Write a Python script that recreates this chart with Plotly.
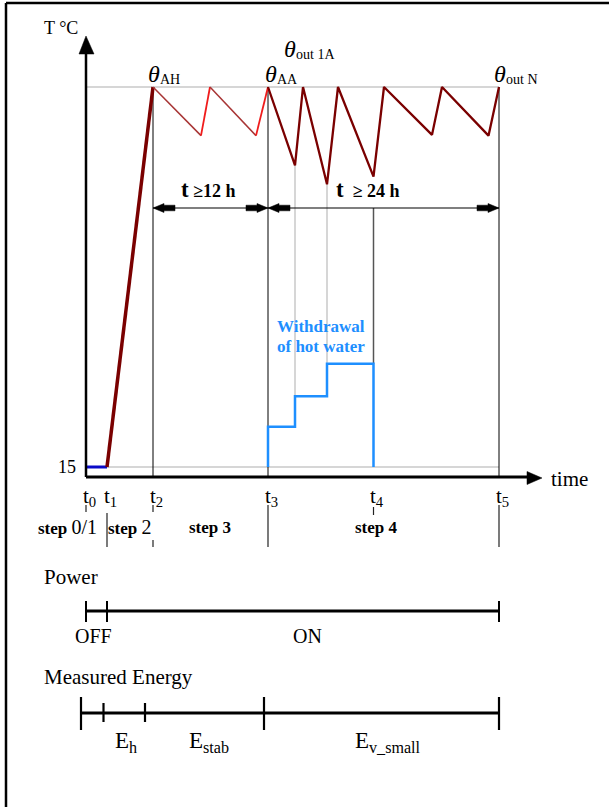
import plotly.graph_objects as go

# ---------------- data ----------------
T_NAMES = ["0", "1", "2", "3", "4", "5"]
T_VALUES = [0, 21, 67, 182, 287.5, 413]          # time instants t0..t5
T_START = 15                                     # initial temperature (°C)
THETA_MAX = 65                                   # thermostat upper temperature

SAW_STAB_TIME = [67, 115, 124, 170, 182]         # step 3 (stabilisation)
SAW_STAB_TEMP = [65, 58.6, 65, 58.6, 65]
SAW_TEST_TIME = [182, 209, 217, 241, 252, 287.5, 298, 346, 356, 402.5, 413]   # step 4
SAW_TEST_TEMP = [65, 54.7, 65, 52.2, 65, 53.2, 65, 58.7, 65, 58.6, 65]

WITHDRAW_TIME = [182, 182, 209, 209, 241, 241, 287.5, 287.5]
WITHDRAW_LEVEL = [15, 20.3, 20.3, 24.3, 24.3, 28.6, 28.6, 15]

STEP_LABELS = ["step <span style='font-size:20px;font-weight:normal'>0/1</span>",
               "step <span style='font-size:20px;font-weight:normal'>2</span>",
               "step 3", "step 4"]
STEP_CENTERS = [-19, 44, 124, 290]

POWER_TIMES = [0, 21, 413]
POWER_LABELS = ["OFF", "ON"]
POWER_LABEL_POS = [7, 221]

ENERGY_TIMES = [-5, 17.5, 59, 178, 413]
ENERGY_LABELS = ["E<sub>h</sub>", "E<sub>stab</sub>", "E<sub>v_small</sub>"]
ENERGY_LABEL_POS = [40, 123, 302]

# ---------------- helpers (pixel -> axis units, for layout only) ----------------
PXS = 7.6


def X(px):
    return px - 86


def Y(py):
    return T_START + (467 - py) / PXS


FONT = "Liberation Serif"
BLACK = "#000000"
GRAY = "#c8c8c8"
MAROON = "#7a0000"

fig = go.Figure()


def line(xs, ys, color, width, dash=None):
    fig.add_trace(go.Scatter(x=xs, y=ys, mode="lines", hoverinfo="skip",
                             line=dict(color=color, width=width, dash=dash)))


t0, t1, t2, t3, t4, t5 = T_VALUES

# reference lines
line([t1, t5], [T_START, T_START], GRAY, 1.5)
line([t0, t5], [THETA_MAX, THETA_MAX], GRAY, 1.5)

# vertical markers at t2, t3, t5 down to the time axis
for tv in (t2, t3, t5):
    line([tv, tv], [THETA_MAX, Y(477)], BLACK, 1)

# gray verticals from saw minima to withdrawal steps
line([SAW_TEST_TIME[1], SAW_TEST_TIME[1]], [SAW_TEST_TEMP[1], WITHDRAW_LEVEL[3]], GRAY, 1.5)
line([SAW_TEST_TIME[3], SAW_TEST_TIME[3]], [SAW_TEST_TEMP[3], WITHDRAW_LEVEL[5]], GRAY, 1.5)
# t4 marker
line([t4, t4], [Y(208), WITHDRAW_LEVEL[6]], "#555555", 1.5)

# initial phase
line([t0, t1], [T_START, T_START], "#0b0bc8", 3)
line([t1, t2], [T_START, THETA_MAX], MAROON, 3.5)

# step 3 sawtooth
for i in range(len(SAW_STAB_TIME) - 1):
    rising = SAW_STAB_TEMP[i + 1] > SAW_STAB_TEMP[i]
    line(SAW_STAB_TIME[i:i + 2], SAW_STAB_TEMP[i:i + 2],
         "#f01c1c" if rising else "#a83535", 1.8 if rising else 1.5)

# step 4 sawtooth
line(SAW_TEST_TIME, SAW_TEST_TEMP, MAROON, 2.3)

# hot water withdrawal
line(WITHDRAW_TIME, WITHDRAW_LEVEL, "#1e8fff", 2.5)

shapes = []


def seg(x0, y0, x1, y1, w=1.2, color=BLACK):
    shapes.append(dict(type="line", xref="x", yref="y", x0=x0, y0=y0, x1=x1, y1=y1,
                       line=dict(color=color, width=w), layer="above"))


def poly(pts):
    path = "M " + " L ".join(f"{X(px)},{Y(py)}" for px, py in pts) + " Z"
    shapes.append(dict(type="path", xref="x", yref="y", path=path,
                       fillcolor=BLACK, line=dict(color=BLACK, width=0.5)))


# frame
shapes.append(dict(type="line", xref="paper", yref="paper", x0=6 / 609, x1=6 / 609,
                   y0=0, y1=1 - 3 / 807, line=dict(color=BLACK, width=2.5)))
shapes.append(dict(type="line", xref="paper", yref="paper", x0=6 / 609, x1=1,
                   y0=1 - 3 / 807, y1=1 - 3 / 807, line=dict(color=BLACK, width=2.5)))

# axes
seg(X(86), Y(477), X(86), Y(52), 2.5)
poly([(86, 36), (79, 54), (94, 54)])
seg(X(86), Y(477), X(528), Y(477), 3)
poly([(542, 478), (527, 471.5), (527, 484.5)])

# duration arrows
ARR_Y = 208


def darrow(xa, xb):
    seg(xa, Y(ARR_Y), xb, Y(ARR_Y), 1.2)
    pa, pb = xa + 86, xb + 86
    poly([(pa, ARR_Y), (pa + 11, ARR_Y - 4.5), (pa + 11, ARR_Y - 2.8), (pa + 22, ARR_Y - 2.8),
          (pa + 22, ARR_Y + 2.8), (pa + 11, ARR_Y + 2.8), (pa + 11, ARR_Y + 4.5)])
    poly([(pb, ARR_Y), (pb - 11, ARR_Y - 4.5), (pb - 11, ARR_Y - 2.8), (pb - 22, ARR_Y - 2.8),
          (pb - 22, ARR_Y + 2.8), (pb - 11, ARR_Y + 2.8), (pb - 11, ARR_Y + 4.5)])


darrow(t2, t3)
darrow(t3, t5)

# ticks below time axis
TICK_SPANS = [[(505, 512)], [(513, 547)], [(505, 512), (540, 547)], [(505, 547)],
              [(507, 515)], [(505, 547)]]
for tv, spans in zip(T_VALUES, TICK_SPANS):
    for a, b in spans:
        seg(tv, Y(a), tv, Y(b), 1.2, "#222222")

# power bar
P_Y = 611
seg(POWER_TIMES[0], Y(P_Y), POWER_TIMES[-1], Y(P_Y), 3)
for tv in POWER_TIMES:
    seg(tv, Y(601), tv, Y(622), 2)

# energy bar
E_Y = 713
seg(ENERGY_TIMES[0], Y(E_Y), ENERGY_TIMES[-1], Y(E_Y), 3)
for i, tv in enumerate(ENERGY_TIMES):
    long = i in (0, 3, 4)
    seg(tv, Y(697 if long else 703), tv, Y(730 if long else 722), 2.2)

fig.update_layout(shapes=shapes)

ann = []


def txt(x, y, s, size, xanchor="center", yanchor="middle", color=BLACK, bold=False):
    if bold:
        s = f"<b>{s}</b>"
    ann.append(dict(x=x, y=y, xref="x", yref="y", text=s, showarrow=False,
                    xanchor=xanchor, yanchor=yanchor,
                    font=dict(family=FONT, size=size, color=color)))


txt(X(42), Y(28), "T °C", 18, xanchor="left")
txt(X(78), Y(467), str(T_START), 18, xanchor="right")
txt(X(549), Y(479), "time", 21, xanchor="left")

# theta labels
for px, py, sub in [(146, 74, "AH"), (263, 74, "AA"), (282, 49, "out 1A"), (492, 74, "out N")]:
    txt(X(px), Y(py), "<i>θ</i>", 24, xanchor="left")
    txt(X(px + 12), Y(py + 5), sub, 14, xanchor="left")

# duration labels
txt(X(208), Y(189), "<span style='font-size:23px'>t</span> ≥12 h", 18, bold=True)
txt(X(368), Y(189), "<span style='font-size:23px'>t</span>  ≥ 24 h", 18, bold=True)

# withdrawal label
txt(X(275), Y(326), "Withdrawal", 17, xanchor="left", color="#1e8fff", bold=True)
txt(X(275), Y(346), "of hot water", 17, xanchor="left", color="#1e8fff", bold=True)

# time instant labels
for name, tv in zip(T_NAMES, T_VALUES):
    txt(tv + 3, Y(497), f"t<sub>{name}</sub>", 21)

for lab, c in zip(STEP_LABELS, STEP_CENTERS):
    txt(c, Y(527), lab, 17, bold=True)

txt(X(42), Y(577), "Power", 21, xanchor="left")
for lab, c in zip(POWER_LABELS, POWER_LABEL_POS):
    txt(c, Y(636), lab, 20)

txt(X(42), Y(677), "Measured Energy", 21, xanchor="left")
for lab, c in zip(ENERGY_LABELS, ENERGY_LABEL_POS):
    txt(c, Y(742), lab, 23)

fig.update_layout(
    annotations=ann,
    width=609, height=807, autosize=False,
    margin=dict(l=0, r=0, t=0, b=0),
    paper_bgcolor="white", plot_bgcolor="white",
    showlegend=False,
    xaxis=dict(range=[X(0), X(609)], visible=False, fixedrange=True),
    yaxis=dict(range=[Y(807), Y(0)], visible=False, fixedrange=True),
)

fig.write_html("out.html", config={"displayModeBar": False},
               post_script="document.body.style.margin='0';document.body.style.overflow='hidden';")
